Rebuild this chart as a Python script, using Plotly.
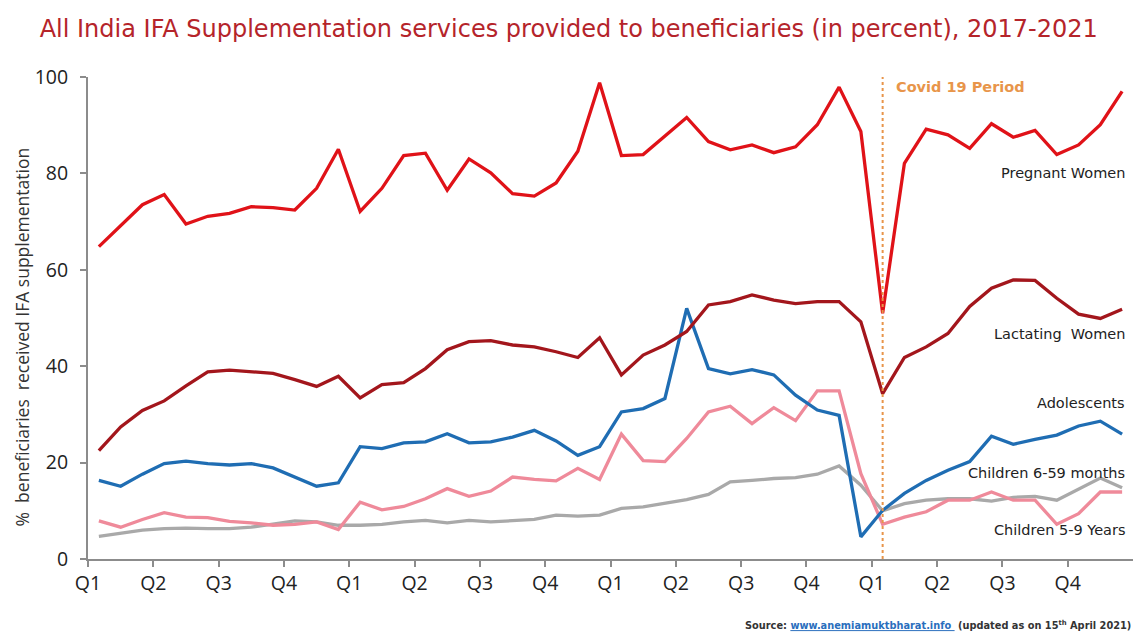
import plotly.graph_objects as go

months = list(range(48))
quarter_ticks = [3 * k - 0.5 for k in range(16)]
quarter_labels = ["Q1", "Q2", "Q3", "Q4"] * 4

pregnant = [64.8, 69.1, 73.5, 75.6, 69.5, 71.1, 71.7, 73.1, 72.9, 72.4, 76.9, 85.0,
            72.1, 76.9, 83.7, 84.2, 76.5, 83.0, 80.1, 75.8, 75.3, 78.0, 84.6, 98.8,
            83.7, 83.9, 87.7, 91.6, 86.6, 84.9, 85.9, 84.3, 85.5, 90.1, 97.9, 88.7,
            51.0, 82.1, 89.2, 88.0, 85.2, 90.3, 87.5, 88.9, 83.9, 85.9, 90.1, 97.0]
lactating = [22.5, 27.4, 30.8, 32.8, 35.9, 38.8, 39.2, 38.9, 38.5, 37.2, 35.8, 37.9,
             33.4, 36.2, 36.6, 39.5, 43.4, 45.1, 45.3, 44.4, 44.0, 43.0, 41.8, 45.9,
             38.2, 42.3, 44.4, 47.2, 52.7, 53.4, 54.8, 53.7, 53.0, 53.4, 53.4, 49.2,
             34.3, 41.8, 44.0, 46.8, 52.4, 56.2, 57.9, 57.8, 54.1, 50.8, 49.9, 51.8]
adolescents = [16.3, 15.1, 17.6, 19.8, 20.3, 19.8, 19.5, 19.8, 18.9, 17.0, 15.1, 15.8,
               23.3, 22.9, 24.1, 24.3, 26.0, 24.1, 24.3, 25.3, 26.7, 24.5, 21.5, 23.3,
               30.5, 31.2, 33.3, 52.0, 39.5, 38.4, 39.3, 38.2, 34.0, 30.9, 29.8, 4.6,
               10.1, 13.6, 16.3, 18.4, 20.2, 25.5, 23.8, 24.8, 25.7, 27.6, 28.6, 25.9]
children_5_9 = [7.9, 6.6, 8.2, 9.6, 8.7, 8.6, 7.8, 7.5, 7.0, 7.2, 7.7, 6.1,
                11.8, 10.2, 10.9, 12.5, 14.6, 13.0, 14.1, 17.0, 16.5, 16.2, 18.8, 16.5,
                25.9, 20.4, 20.2, 25.0, 30.5, 31.7, 28.1, 31.4, 28.7, 34.9, 34.9, 17.7,
                7.2, 8.7, 9.8, 12.2, 12.2, 13.9, 12.2, 12.2, 7.2, 9.4, 13.9, 13.9]
children_6_59 = [4.7, 5.3, 6.0, 6.3, 6.4, 6.3, 6.3, 6.6, 7.2, 7.9, 7.7, 7.0,
                 7.0, 7.2, 7.7, 8.0, 7.5, 8.0, 7.7, 8.0, 8.2, 9.1, 8.9, 9.1,
                 10.5, 10.8, 11.5, 12.3, 13.4, 16.0, 16.3, 16.7, 16.9, 17.6, 19.3, 15.3,
                 10.0, 11.5, 12.2, 12.5, 12.5, 12.0, 12.8, 13.0, 12.2, 14.5, 16.8, 14.8]

series = [
    ("Children 6-59 months", children_6_59, "#a9a9a9", 17.9),
    ("Children 5-9 Years", children_5_9, "#ef8a9a", 6.0),
    ("Adolescents", adolescents, "#1f6db3", 32.4),
    ("Lactating  Women", lactating, "#a3161c", 46.7),
    ("Pregnant Women", pregnant, "#e01218", 80.0),
]

fig = go.Figure()
for name, vals, color, _ in series:
    fig.add_trace(go.Scatter(x=months, y=vals, mode="lines", name=name,
                             line=dict(color=color, width=3.3), hoverinfo="skip"))

covid_x = 36
fig.add_shape(type="line", x0=covid_x, x1=covid_x, y0=0, y1=100, xref="x", yref="y",
              line=dict(color="#e8954a", width=2, dash="dot"))

annotations = []
for name, vals, color, ylab in series:
    annotations.append(dict(x=0.994, xref="paper", y=ylab, yref="y", text=name,
                            showarrow=False, xanchor="right", yanchor="middle",
                            font=dict(family="DejaVu Sans", size=14.5, color="#222222")))
annotations.append(dict(x=36.5, xref="x", y=97.9, yref="y", text="<b>Covid 19 Period</b>",
                        showarrow=False, xanchor="left", yanchor="middle",
                        font=dict(family="DejaVu Sans", size=14.5, color="#e8954a")))
annotations.append(dict(x=-0.063, xref="paper", y=0.46, yref="paper",
                        text="%  beneficiaries  received IFA supplementation", textangle=-90,
                        showarrow=False, xanchor="center", yanchor="middle",
                        font=dict(family="Open Sans", size=17.5, color="#333333")))
annotations.append(dict(x=1.0, xref="paper", y=-0.137, yref="paper",
                        text="<b>Source: <span style='color:#2a6ebd;text-decoration:underline'>www.anemiamuktbharat.info </span> (updated as on 15<sup>th</sup> April 2021)</b>",
                        showarrow=False, xanchor="right", yanchor="middle",
                        font=dict(family="DejaVu Sans", size=9.8, color="#333333")))

fig.update_layout(
    width=1133, height=632,
    margin=dict(l=88, r=0, t=77, b=73),
    paper_bgcolor="white", plot_bgcolor="white",
    showlegend=False,
    title=dict(text="All India IFA Supplementation services provided to beneficiaries (in percent), 2017-2021",
               x=0.035, xanchor="left", y=0.955, yanchor="middle",
               font=dict(family="DejaVu Sans", size=24, color="#b5242a")),
    annotations=annotations,
    xaxis=dict(range=[-0.5, 47.5], tickmode="array", tickvals=quarter_ticks, ticktext=quarter_labels,
               showgrid=False, zeroline=False, showline=True, linecolor="#8c8c8c", linewidth=2,
               ticks="outside", ticklen=6, tickwidth=2, tickcolor="#8c8c8c",
               tickfont=dict(family="Open Sans", size=19.5, color="#222222")),
    yaxis=dict(range=[0, 100], tickvals=[0, 20, 40, 60, 80, 100],
               showgrid=False, zeroline=False, showline=True, linecolor="#8c8c8c", linewidth=2,
               ticks="outside", ticklen=6, tickwidth=2, tickcolor="#8c8c8c",
               ticklabelstandoff=8,
               tickfont=dict(family="Open Sans", size=19.5, color="#222222")),
)

fig.write_html("out.html")
